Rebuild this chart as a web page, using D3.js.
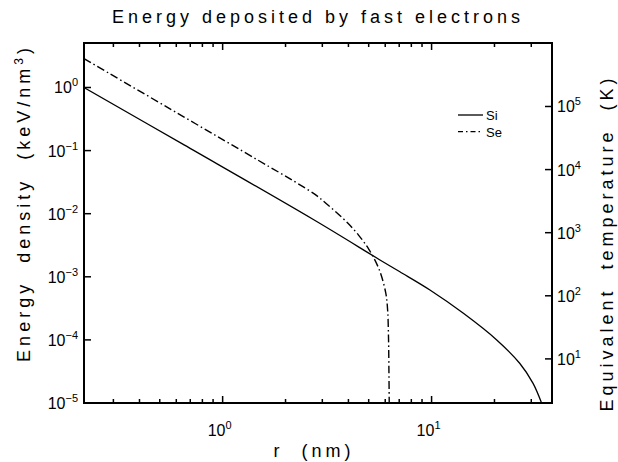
<!DOCTYPE html>
<html><head><meta charset="utf-8">
<script src="https://cdn.jsdelivr.net/npm/d3@7"></script>
<style>
html,body{margin:0;padding:0;background:#fff;}
text{font-family:"Liberation Sans",Arial,sans-serif;fill:#000;}
</style></head>
<body><svg id="c" width="618" height="462"></svg>
<script>
// ---- data ----
const siR = [0.217, 0.654, 2.73, 5.66, 7.05, 9.82, 14.2, 20.5, 26.4, 30.6, 33.6];
const siE = [1.0, 0.123, 8.0e-3, 1.85e-3, 1.20e-3, 6.18e-4, 2.64e-4, 1.0e-4, 4.26e-5, 2.05e-5, 1.0e-5];
const seR = [0.217, 0.654, 1.5, 2.2, 2.82, 3.16, 3.55, 3.98, 4.47, 5.01, 5.62, 6.04, 6.16, 6.22, 6.25, 6.27];
const seE = [2.86, 0.34, 0.0684, 0.0326, 0.0193, 0.0141, 0.0101, 7.03e-3, 4.58e-3, 2.72e-3, 1.29e-3, 5.47e-4, 2.98e-4, 1.12e-4, 3.2e-5, 1.0e-5];
const xMajor = [1, 10];
const xMajorExp = ["0", "1"];
const xMinor = [0.3,0.4,0.5,0.6,0.7,0.8,0.9,2,3,4,5,6,7,8,9,20,30];
const yMajor = [1e-5,1e-4,1e-3,1e-2,1e-1,1];
const yMajorExp = ["−5","−4","−3","−2","−1","0"];
const y2Major = [1e1,1e2,1e3,1e4,1e5];
const y2MajorExp = ["1","2","3","4","5"];
const seriesNames = ["Si", "Se"];
const title = "Energy deposited by fast electrons";
const xTitle = "r  (nm)";
const tempFactor = 2e5;

// ---- layout ----
const svg = d3.select("#c");
const L = 84, R = 552, T = 43, B = 403;
const x = d3.scaleLog().domain([0.217, 37.7]).range([L, R]);
const y = d3.scaleLog().domain([1e-5, 5.07]).range([B, T]);
const y2 = d3.scaleLog().domain([1e-5*tempFactor, 5.07*tempFactor]).range([B, T]);

svg.append("clipPath").attr("id","clip").append("rect")
  .attr("x",L).attr("y",T).attr("width",R-L).attr("height",B-T);

const line = d3.line().x(d=>x(d[0])).y(d=>y(d[1])).curve(d3.curveCatmullRom.alpha(0.5));
const g = svg.append("g").attr("clip-path","url(#clip)");
g.append("path").datum(siR.map((r,i)=>[r,siE[i]])).attr("d",line)
  .attr("fill","none").attr("stroke","#000").attr("stroke-width",1.3);
g.append("path").datum(seR.map((r,i)=>[r,seE[i]])).attr("d",line)
  .attr("fill","none").attr("stroke","#000").attr("stroke-width",1.4)
  .attr("stroke-dasharray","8,3,1.5,3");

// ticks
const tk = svg.append("g").attr("stroke","#000").attr("stroke-width",1.5);
xMajor.forEach(v=>{
  tk.append("line").attr("x1",x(v)).attr("x2",x(v)).attr("y1",B).attr("y2",B-7);
  tk.append("line").attr("x1",x(v)).attr("x2",x(v)).attr("y1",T).attr("y2",T+7);
});
xMinor.forEach(v=>{
  tk.append("line").attr("x1",x(v)).attr("x2",x(v)).attr("y1",B).attr("y2",B-4);
  tk.append("line").attr("x1",x(v)).attr("x2",x(v)).attr("y1",T).attr("y2",T+4);
});
yMajor.forEach(v=>{
  tk.append("line").attr("x1",L).attr("x2",L+7).attr("y1",y(v)).attr("y2",y(v));
});
y2Major.forEach(v=>{
  tk.append("line").attr("x1",R).attr("x2",R-7).attr("y1",y2(v)).attr("y2",y2(v));
});

// frame
svg.append("rect").attr("x",L).attr("y",T).attr("width",R-L).attr("height",B-T)
  .attr("fill","none").attr("stroke","#000").attr("stroke-width",2);

// tick labels
function pow(sel, exp){
  sel.append("tspan").text("10");
  sel.append("tspan").attr("dy",-7).attr("font-size",11).text(exp);
}
xMajor.forEach((v,i)=>{
  const t = svg.append("text").attr("x",x(v)-3).attr("y",436).attr("text-anchor","middle").attr("font-size",16);
  pow(t, xMajorExp[i]);
});
yMajor.forEach((v,i)=>{
  const t = svg.append("text").attr("x",78).attr("y",y(v)+6).attr("text-anchor","end").attr("font-size",16);
  pow(t, yMajorExp[i]);
});
y2Major.forEach((v,i)=>{
  const t = svg.append("text").attr("x",557).attr("y",y2(v)+6).attr("text-anchor","start").attr("font-size",16);
  pow(t, y2MajorExp[i]);
});

// titles
svg.append("text").attr("x",318).attr("y",23).attr("text-anchor","middle")
  .attr("font-size",18).attr("letter-spacing","4px").text(title);
svg.append("text").attr("x",314).attr("y",457).attr("text-anchor","middle")
  .attr("font-size",18).attr("letter-spacing","4px").attr("xml:space","preserve").text(xTitle);
const lt = svg.append("text").attr("transform","translate(30,203) rotate(-90)")
  .attr("text-anchor","middle").attr("font-size",18).attr("letter-spacing","4px")
  .attr("xml:space","preserve");
lt.append("tspan").text("Energy  density  (keV/nm");
lt.append("tspan").attr("dy",-7).attr("font-size",12).text("3");
lt.append("tspan").attr("dy",7).text(")");
svg.append("text").attr("transform","translate(613,243) rotate(-90)")
  .attr("text-anchor","middle").attr("font-size",18).attr("letter-spacing","4px")
  .attr("xml:space","preserve").text("Equivalent  temperature  (K)");

// legend
const leg = [[115, null],[131.7, "5,3,1.5,3"]];
leg.forEach((d,i)=>{
  const l = svg.append("line").attr("x1",458).attr("x2",483).attr("y1",d[0]).attr("y2",d[0])
    .attr("stroke","#000").attr("stroke-width",1.3);
  if(d[1]) l.attr("stroke-dasharray",d[1]);
  svg.append("text").attr("x",486).attr("y",d[0]+5).attr("font-size",13).text(seriesNames[i]);
});
</script></body></html>
